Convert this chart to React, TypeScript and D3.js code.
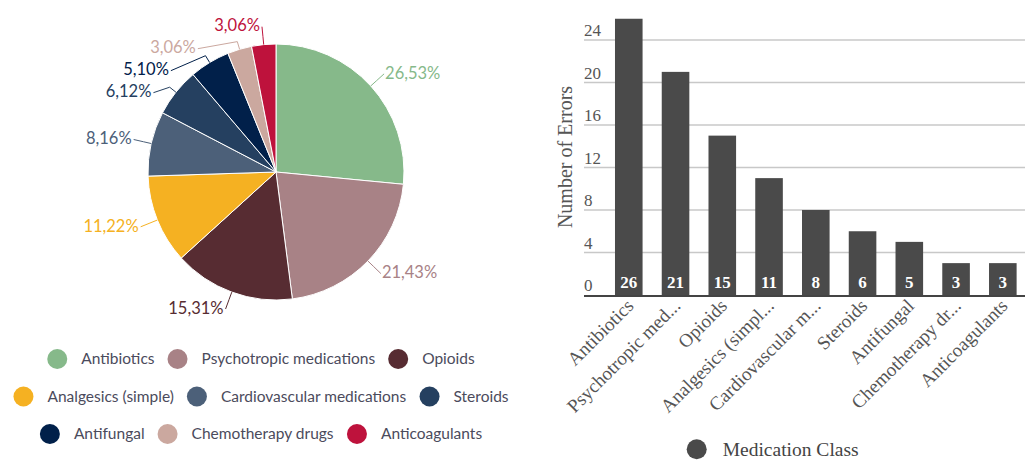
import React from "react";
import * as d3 from "d3";

const categories = [
  "Antibiotics",
  "Psychotropic medications",
  "Opioids",
  "Analgesics (simple)",
  "Cardiovascular medications",
  "Steroids",
  "Antifungal",
  "Chemotherapy drugs",
  "Anticoagulants",
];
const errors = [26, 21, 15, 11, 8, 6, 5, 3, 3];
const sliceColors = [
  "#86b98a",
  "#a88286",
  "#572c32",
  "#f5b122",
  "#4c6079",
  "#254060",
  "#01204a",
  "#cba89f",
  "#be123c",
];
const barLabels = [
  "Antibiotics",
  "Psychotropic med...",
  "Opioids",
  "Analgesics (simpl...",
  "Cardiovascular m...",
  "Steroids",
  "Antifungal",
  "Chemotherapy dr...",
  "Anticoagulants",
];
const yTicks = [0, 4, 8, 12, 16, 20, 24];
const barLegendLabel = "Medication Class";
const yAxisTitle = "Number of Errors";

const SANS = "Lato, 'Noto Sans', sans-serif";
const SERIF = "'Liberation Serif', 'DejaVu Serif', serif";

function measure(text: string, font: string): number {
  const c = document.createElement("canvas").getContext("2d");
  if (!c) return text.length * 7;
  c.font = font;
  return c.measureText(text).width;
}

function PieChart() {
  const cx = 276;
  const cy = 172;
  const r = 128;
  const R = 146;
  const total = d3.sum(errors);
  const pie = d3.pie<number>().sort(null).value((d) => d);
  const arcs = pie(errors);
  const arcGen = d3.arc<d3.PieArcDatum<number>>().innerRadius(0).outerRadius(r);

  type Lab = {
    i: number;
    mid: number;
    right: boolean;
    y: number;
    x: number;
  };
  const labs: Lab[] = arcs.map((a, i) => {
    const mid = (a.startAngle + a.endAngle) / 2;
    return {
      i,
      mid,
      right: mid < Math.PI,
      y: cy - R * Math.cos(mid),
      x: cx + R * Math.sin(mid),
    };
  });
  const gap = 22;
  [true, false].forEach((side) => {
    const group = labs.filter((l) => l.right === side).sort((a, b) => a.y - b.y);
    for (let k = 1; k < group.length; k++) {
      if (group[k].y < group[k - 1].y + gap) group[k].y = group[k - 1].y + gap;
    }
    group.forEach((l) => {
      const dy = l.y - cy;
      const dx = Math.sqrt(Math.max(0, R * R - dy * dy));
      l.x = side ? cx + dx : cx - dx;
    });
  });

  // legend layout (flow, centered)
  const legendFont = `15.5px ${SANS}`;
  const maxW = 505;
  const itemGap = 13;
  const rows: { i: number; w: number }[][] = [[]];
  let rowW = 0;
  categories.forEach((c, i) => {
    const w = 34 + measure(c, legendFont);
    const cur = rows[rows.length - 1];
    const add = cur.length ? itemGap + w : w;
    if (cur.length && rowW + add > maxW) {
      rows.push([{ i, w }]);
      rowW = w;
    } else {
      cur.push({ i, w });
      rowW += add;
    }
  });
  const legendCx = 261;
  const legendY0 = 359;
  const legendDy = 37.5;

  return (
    <g>
      <g transform={`translate(${cx},${cy})`}>
        {arcs.map((a, i) => (
          <path
            key={i}
            d={arcGen(a) || ""}
            fill={sliceColors[i]}
            stroke="#fff"
            strokeWidth={1}
          />
        ))}
      </g>
      {labs.map((l) => {
        const p0x = cx + r * Math.sin(l.mid);
        const p0y = cy - r * Math.cos(l.mid);
        const p1x = cx + (r + 8) * Math.sin(l.mid);
        const p1y = cy - (r + 8) * Math.cos(l.mid);
        const pct = ((errors[l.i] / total) * 100).toFixed(2).replace(".", ",") + "%";
        return (
          <g key={l.i}>
            <polyline
              points={`${p0x},${p0y} ${p1x},${p1y} ${l.x},${l.y}`}
              fill="none"
              stroke={sliceColors[l.i]}
              strokeWidth={1}
            />
            <text
              x={l.right ? l.x + 1 : l.x - 2}
              y={l.y - 1}
              dy="0.35em"
              textAnchor={l.right ? "start" : "end"}
              fill={sliceColors[l.i]}
              fontFamily={SANS}
              fontSize={16.5}
            >
              {pct}
            </text>
          </g>
        );
      })}
      {rows.map((row, ri) => {
        const total = d3.sum(row, (d) => d.w) + itemGap * (row.length - 1);
        let x = legendCx - total / 2;
        const y = legendY0 + ri * legendDy;
        return (
          <g key={ri}>
            {row.map((it) => {
              const x0 = x;
              x += it.w + itemGap;
              return (
                <g key={it.i}>
                  <circle cx={x0 + 10} cy={y} r={10} fill={sliceColors[it.i]} />
                  <text
                    x={x0 + 34}
                    y={y}
                    dy="0.35em"
                    fontFamily={SANS}
                    fontSize={15.5}
                    fill="#4b4b5c"
                  >
                    {categories[it.i]}
                  </text>
                </g>
              );
            })}
          </g>
        );
      })}
    </g>
  );
}

function BarChart() {
  const left = 584;
  const right = 1025;
  const y = d3.scaleLinear().domain([0, 24]).range([295, 40]);
  const x = d3
    .scaleBand<number>()
    .domain(errors.map((_, i) => i))
    .range([605.4, 1026.2])
    .paddingInner(0.41)
    .paddingOuter(0.205);
  const bw = x.bandwidth();
  return (
    <g>
      {yTicks.map((t) => (
        <g key={t}>
          {t > 0 && (
            <line x1={left} x2={right} y1={y(t)} y2={y(t)} stroke="#c8c8c8" strokeWidth={1.5} />
          )}
          <text
            x={left}
            y={y(t) - 4}
            fontFamily={SERIF}
            fontSize={17}
            fill="#555"
          >
            {t}
          </text>
        </g>
      ))}
      {errors.map((v, i) => (
        <g key={i}>
          <rect x={x(i)} y={y(v)} width={bw} height={y(0) - y(v)} fill="#4a4a4a" />
          <text
            x={(x(i) as number) + bw / 2}
            y={y(0) - 7}
            textAnchor="middle"
            fontFamily={SERIF}
            fontWeight="bold"
            fontSize={17}
            fill="#fff"
          >
            {v}
          </text>
          <text
            transform={`translate(${(x(i) as number) + bw / 2 + 6},${y(0) + 12}) rotate(-45)`}
            textAnchor="end"
            fontFamily={SERIF}
            fontSize={19}
            fill="#555"
          >
            {barLabels[i]}
          </text>
        </g>
      ))}
      <line x1={left} x2={right} y1={y(0) + 1} y2={y(0) + 1} stroke="#444" strokeWidth={2} />
      <text
        transform={`translate(572,157) rotate(-90)`}
        textAnchor="middle"
        fontFamily={SERIF}
        fontSize={20}
        fill="#555"
      >
        {yAxisTitle}
      </text>
      <circle cx={696.7} cy={449.3} r={10} fill="#4a4a4a" />
      <text x={722.7} y={449.3} dy="0.35em" fontFamily={SERIF} fontSize={19.5} fill="#444">
        {barLegendLabel}
      </text>
    </g>
  );
}

export default function App() {
  return (
    <svg
      width={1025}
      height={460}
      style={{ position: "absolute", left: 0, top: 0, background: "#fff" }}
    >
      <PieChart />
      <BarChart />
    </svg>
  );
}
